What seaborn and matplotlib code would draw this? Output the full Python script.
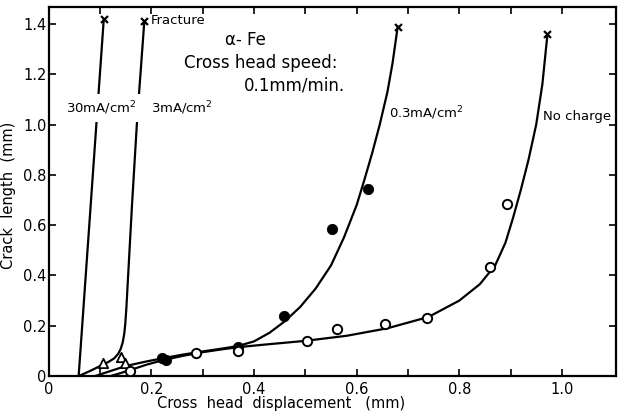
# Crack length vs cross head displacement for alpha-Fe at several charging currents
import matplotlib
matplotlib.use("Agg")
import matplotlib.pyplot as plt
import numpy as np
import pandas as pd
import seaborn as sns

# traced curves (x = displacement mm, y = crack length mm)
curve_30_x = [0.058, 0.107]
curve_30_y = [0.0, 1.42]

curve_3_x = [0.058, 0.08, 0.10, 0.115, 0.127, 0.135, 0.140, 0.144, 0.147, 0.149, 0.151, 0.155, 0.162, 0.172, 0.186]
curve_3_y = [0.0, 0.02, 0.04, 0.055, 0.07, 0.088, 0.108, 0.135, 0.17, 0.21, 0.27, 0.42, 0.68, 1.02, 1.41]

curve_03_x = [0.09, 0.12, 0.15, 0.19, 0.22, 0.26, 0.30, 0.34, 0.37, 0.40, 0.43, 0.46, 0.49, 0.52, 0.55, 0.575, 0.60,
              0.615, 0.63, 0.645, 0.66, 0.67, 0.68]
curve_03_y = [0.0, 0.02, 0.04, 0.058, 0.07, 0.085, 0.098, 0.11, 0.12, 0.138, 0.172, 0.218, 0.275, 0.348, 0.44, 0.55, 0.68,
              0.78, 0.885, 1.0, 1.13, 1.245, 1.39]

curve_nc_x = [0.12, 0.14, 0.16, 0.19, 0.22, 0.26, 0.30, 0.34, 0.37, 0.42, 0.50, 0.58, 0.66, 0.74, 0.80, 0.84, 0.87,
              0.89, 0.905, 0.92, 0.935, 0.95, 0.962, 0.972]
curve_nc_y = [0.0, 0.012, 0.025, 0.045, 0.062, 0.08, 0.095, 0.107, 0.115, 0.125, 0.14, 0.16, 0.19, 0.235, 0.3, 0.365,
              0.44, 0.53, 0.63, 0.74, 0.86, 1.0, 1.16, 1.36]

# measured points
tri_x = [0.105, 0.141, 0.148]
tri_y = [0.052, 0.077, 0.05]

filled_x = [0.22, 0.228, 0.368, 0.458, 0.551, 0.622]
filled_y = [0.07, 0.064, 0.117, 0.24, 0.583, 0.744]

open_x = [0.159, 0.286, 0.368, 0.504, 0.562, 0.655, 0.738, 0.859, 0.893]
open_y = [0.021, 0.093, 0.099, 0.139, 0.186, 0.207, 0.229, 0.435, 0.683]

fracture_x = [0.107, 0.186, 0.68, 0.972]
fracture_y = [1.42, 1.41, 1.387, 1.358]

sns.set_style("ticks", {"text.color": "black", "axes.labelcolor": "black", "axes.edgecolor": "black",
                        "xtick.color": "black", "ytick.color": "black"})
plt.rcParams["font.family"] = ["DejaVu Sans"]

fig = plt.figure(figsize=(6.27, 4.16), dpi=100)
ax = fig.add_axes([0.078, 0.096, 0.904, 0.887])

for cx, cy in [(curve_30_x, curve_30_y), (curve_3_x, curve_3_y),
               (curve_03_x, curve_03_y), (curve_nc_x, curve_nc_y)]:
    sns.lineplot(x=cx, y=cy, sort=False, estimator=None, color="black", lw=1.6, ax=ax)

sns.scatterplot(x=tri_x, y=tri_y, marker="^", s=45, facecolor="white", edgecolor="black", linewidth=1.3, ax=ax, zorder=5)
sns.scatterplot(x=filled_x, y=filled_y, marker="o", s=55, color="black", edgecolor="black", ax=ax, zorder=5)
sns.scatterplot(x=open_x, y=open_y, marker="o", s=45, facecolor="white", edgecolor="black", linewidth=1.4, ax=ax, zorder=5)
sns.scatterplot(x=fracture_x, y=fracture_y, marker="x", s=25, color="black", linewidth=1.6, ax=ax, zorder=5)

fs = 9.5
ax.text(0.199, 1.415, "Fracture", fontsize=fs, ha="left", va="center")
ax.text(0.383, 1.336, "α- Fe", fontsize=12, ha="center", va="center")
ax.text(0.413, 1.243, "Cross head speed:", fontsize=12, ha="center", va="center")
ax.text(0.478, 1.157, "0.1mm/min.", fontsize=12, ha="center", va="center")
ax.text(0.033, 1.066, "30mA/cm$^2$", fontsize=fs, ha="left", va="center",
        bbox=dict(facecolor="white", edgecolor="none", pad=4), zorder=6)
ax.text(0.2, 1.066, "3mA/cm$^2$", fontsize=fs, ha="left", va="center")
ax.text(0.663, 1.044, "0.3mA/cm$^2$", fontsize=fs, ha="left", va="center")
ax.text(0.963, 1.03, "No charge", fontsize=fs, ha="left", va="center")

ax.set_xlim(0, 1.105)
ax.set_ylim(0, 1.467)
ax.set_xticks([0, 0.2, 0.4, 0.6, 0.8, 1.0])
ax.set_xticklabels(["0", "0.2", "0.4", "0.6", "0.8", "1.0"])
ax.set_xticks(np.arange(0.1, 1.1, 0.2), minor=True)
ax.set_yticks([0, 0.2, 0.4, 0.6, 0.8, 1.0, 1.2, 1.4])
ax.set_yticklabels(["0", "0.2", "0.4", "0.6", "0.8", "1.0", "1.2", "1.4"])
ax.tick_params(axis="both", which="both", direction="in", top=True, right=True,
               width=1.2, length=5, labelsize=10.5)
ax.tick_params(axis="x", pad=4)
ax.tick_params(axis="y", pad=1.5)
for sp in ax.spines.values():
    sp.set_linewidth(1.6)

ax.set_xlabel("Cross  head  displacement   (mm)", fontsize=10.5, labelpad=0)
ax.xaxis.set_label_coords(0.41, -0.054)
ax.set_ylabel("Crack  length  (mm)", fontsize=10.5)
ax.yaxis.set_label_coords(-0.058, 0.49)

fig.savefig("out.png", dpi=100)
